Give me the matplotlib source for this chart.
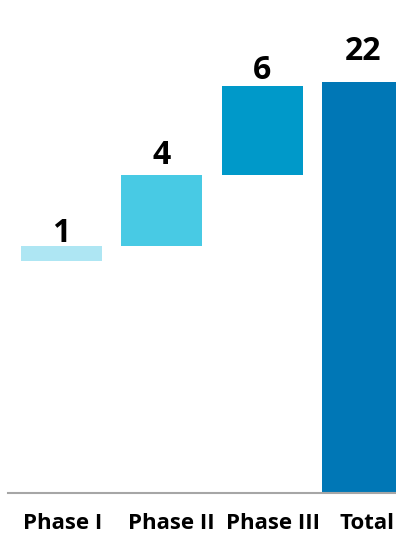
import matplotlib.pyplot as plt
from matplotlib.transforms import offset_copy

# Waterfall data
categories = ["Phase I", "Phase II", "Phase III", "Total"]
shown_values = [1, 4, 6, 22]
bar_bottoms = [12.4, 13.2, 17.0, 0.0]
bar_heights = [0.8, 3.8, 4.8, 22.0]
colors = ["#AEE6F3", "#48CAE4", "#0099C9", "#0077B6"]
label_pad = [3, 8, 5, 16]        # points above bar top
tick_shift = [1, 7, 8, 3]        # points, horizontal nudge of category labels

plt.rcParams["font.family"] = ["Open Sans", "DejaVu Sans"]

fig = plt.figure(figsize=(3.96, 5.35), dpi=100)
ax = fig.add_axes([8 / 396, 42 / 535, 1 - 8 / 396, 411 / 535])

x = range(len(categories))
ax.bar(x, bar_heights, bottom=bar_bottoms, width=0.805, color=colors)

for i, v in enumerate(shown_values):
    top = bar_bottoms[i] + bar_heights[i]
    ax.annotate(str(v), (i, top), xytext=(0, label_pad[i]), textcoords="offset points",
                ha="center", va="baseline", fontsize=23, fontweight="bold", clip_on=False)

ax.set_xlim(-0.527, 3.33)
ax.set_ylim(0, 22)
ax.set_xticks(list(x))
ax.set_xticklabels(categories, fontsize=16, fontweight="bold")
ax.tick_params(axis="x", length=0, pad=14.5)
for lbl, dx in zip(ax.get_xticklabels(), tick_shift):
    lbl.set_transform(offset_copy(lbl.get_transform(), fig=fig, x=dx, y=0, units="points"))
ax.set_yticks([])
for s in ["top", "right", "left"]:
    ax.spines[s].set_visible(False)
ax.spines["bottom"].set_color("#A6A6A6")
ax.spines["bottom"].set_linewidth(1.5)

plt.savefig("out.png", dpi=100)
plt.close()
